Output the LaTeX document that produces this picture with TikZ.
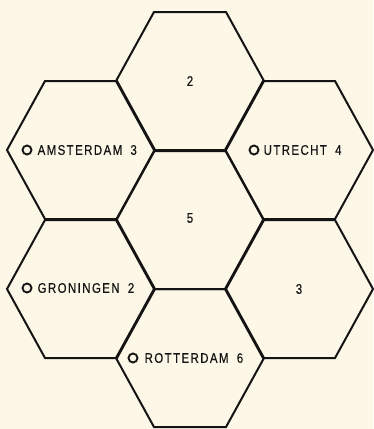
\documentclass[tikz,border=0pt]{standalone}
\usepackage{fontspec}
\setmainfont{Liberation Sans}
\newfontfamily\labfont[FakeStretch=0.82,LetterSpace=10,FakeBold=0.4,WordSpace=1.8]{Liberation Sans}
\usetikzlibrary{positioning}
\definecolor{paper}{HTML}{FCF7E6}
\definecolor{ink}{HTML}{141414}
\tikzset{
  hexline/.style={draw=ink,line width=2pt,line join=miter},
  citymark/.style={circle,draw=ink,line width=1.9pt,minimum size=9pt,inner sep=0pt},
  citytxt/.style={font=\labfont\fontsize{14}{15}\selectfont,text=ink,inner sep=0pt,anchor=west},
  numtxt/.style={font=\labfont\fontsize{14}{15}\selectfont,text=ink,inner sep=0pt}}
\begin{document}
\begin{tikzpicture}[x=1pt,y=-1pt]
\fill[paper] (0,0) rectangle (373,429);
\useasboundingbox (0,0) rectangle (373,429);
% seven cells: centre column and two side columns
\foreach \cx/\cy/\nm in {190/81/cTop,190/220/cMid,190/358/cBot,81/150/cNW,81/289/cSW,299/150/cNE,299/289/cSE}{
  \coordinate (\nm) at (\cx,\cy);
  \draw[hexline] (\cx-74,\cy) -- (\cx-36,\cy-69) -- (\cx+36,\cy-69) -- (\cx+74,\cy)
    -- (\cx+36,\cy+69) -- (\cx-36,\cy+69) -- cycle;
}
\node[numtxt] (nTop) at (cTop) {2};
\node[numtxt] (nMid) at ([yshift=2]cMid) {5};
\node[numtxt] (nSE) at (cSE) {3};
\node[citymark] (amsMark) at (27,150) {};
\node[citytxt,right=5pt of amsMark] (ams) {AMSTERDAM 3};
\node[citymark] (utrMark) at (254,150) {};
\node[citytxt,right=4pt of utrMark] (utr) {UTRECHT 4};
\node[citymark] (groMark) at (27,288) {};
\node[citytxt,right=5pt of groMark] (gro) {GRONINGEN 2};
\node[citymark] (rotMark) at (133,358) {};
\node[citytxt,right=6pt of rotMark] (rot) {ROTTERDAM 6};
\end{tikzpicture}
\end{document}
